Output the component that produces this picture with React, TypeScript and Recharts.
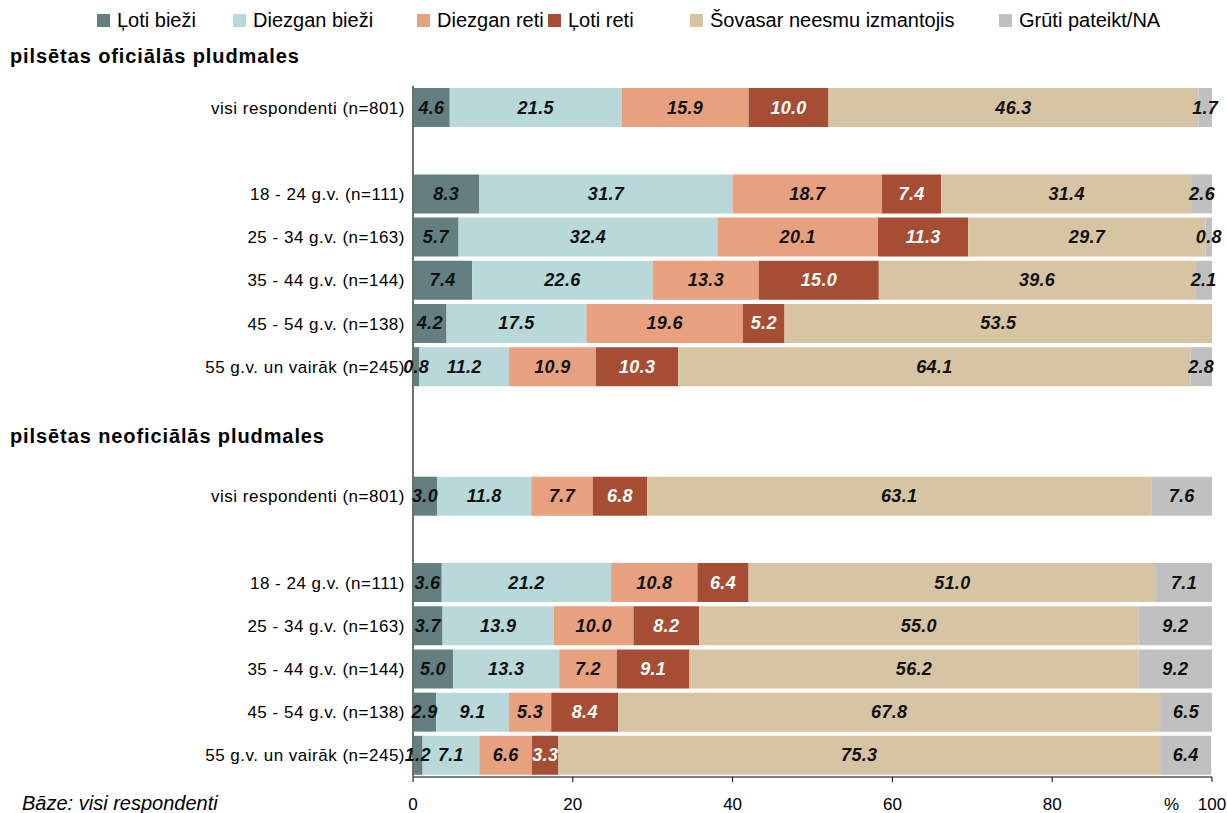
import React from 'react';
import { BarChart, Bar, XAxis, YAxis, LabelList } from 'recharts';

// row labels (empty strings are spacer rows)
const categories = [
  'visi respondenti (n=801)',
  '',
  '18 - 24 g.v. (n=111)',
  '25 - 34 g.v. (n=163)',
  '35 - 44 g.v. (n=144)',
  '45 - 54 g.v. (n=138)',
  '55 g.v. un vairāk (n=245)',
  '',
  '',
  'visi respondenti (n=801)',
  '',
  '18 - 24 g.v. (n=111)',
  '25 - 34 g.v. (n=163)',
  '35 - 44 g.v. (n=144)',
  '45 - 54 g.v. (n=138)',
  '55 g.v. un vairāk (n=245)',
];

const lotiBiezi = [4.6, null, 8.3, 5.7, 7.4, 4.2, 0.8, null, null, 3.0, null, 3.6, 3.7, 5.0, 2.9, 1.2];
const diezganBiezi = [21.5, null, 31.7, 32.4, 22.6, 17.5, 11.2, null, null, 11.8, null, 21.2, 13.9, 13.3, 9.1, 7.1];
const diezganReti = [15.9, null, 18.7, 20.1, 13.3, 19.6, 10.9, null, null, 7.7, null, 10.8, 10.0, 7.2, 5.3, 6.6];
const lotiReti = [10.0, null, 7.4, 11.3, 15.0, 5.2, 10.3, null, null, 6.8, null, 6.4, 8.2, 9.1, 8.4, 3.3];
const neesmu = [46.3, null, 31.4, 29.7, 39.6, 53.5, 64.1, null, null, 63.1, null, 51.0, 55.0, 56.2, 67.8, 75.3];
const gruti = [1.7, null, 2.6, 0.8, 2.1, 0, 2.8, null, null, 7.6, null, 7.1, 9.2, 9.2, 6.5, 6.4];

const xTicks = [0, 20, 40, 60, 80, 100];

const series = [
  { key: 'a', name: 'Ļoti bieži', values: lotiBiezi, color: '#637f80', text: '#111' },
  { key: 'b', name: 'Diezgan bieži', values: diezganBiezi, color: '#b8d8d9', text: '#111' },
  { key: 'c', name: 'Diezgan reti', values: diezganReti, color: '#e7a17e', text: '#111' },
  { key: 'd', name: 'Ļoti reti', values: lotiReti, color: '#a54e34', text: '#fff' },
  { key: 'e', name: 'Šovasar neesmu izmantojis', values: neesmu, color: '#d6c4a3', text: '#111' },
  { key: 'f', name: 'Grūti pateikt/NA', values: gruti, color: '#c0c0c0', text: '#111' },
];

const data = categories.map((name, i) => {
  const row: Record<string, any> = { name };
  series.forEach((s) => {
    row[s.key] = s.values[i];
  });
  return row;
});

const FONT = '"Liberation Sans", Arial, sans-serif';

// legend item x positions (px)
const legendX = [97, 233, 417, 548, 690, 999];

const makeLabel = (fill: string) => (props: any) => {
  const { x, y, width, height, value } = props;
  if (value == null || value === 0) return null;
  return (
    <text
      x={Number(x) + Number(width) / 2}
      y={Number(y) + Number(height) / 2}
      textAnchor="middle"
      dominantBaseline="central"
      fill={fill}
      fontFamily={FONT}
      fontSize={18}
      fontWeight="bold"
      fontStyle="italic"
      letterSpacing={0.3}
    >
      {Number(value).toFixed(1)}
    </text>
  );
};

export default function App() {
  return (
    <div style={{ position: 'absolute', left: 0, top: 0, width: 1227, height: 813, fontFamily: FONT, background: '#fff' }}>
      {series.map((s, i) => (
        <div
          key={s.key}
          style={{ position: 'absolute', left: legendX[i], top: 8, height: 24, display: 'flex', alignItems: 'center', fontSize: 20, color: '#000', whiteSpace: 'nowrap' }}
        >
          <span style={{ display: 'inline-block', width: 13, height: 13, background: s.color, marginRight: 7 }} />
          {s.name}
        </div>
      ))}
      <div style={{ position: 'absolute', left: 10, top: 45, fontSize: 20, fontWeight: 'bold', letterSpacing: 0.9, whiteSpace: 'nowrap' }}>
        pilsētas oficiālās pludmales
      </div>
      <div style={{ position: 'absolute', left: 10, top: 425, fontSize: 20, fontWeight: 'bold', letterSpacing: 0.9, whiteSpace: 'nowrap' }}>
        pilsētas neoficiālās pludmales
      </div>
      <div style={{ position: 'absolute', left: 22, top: 792, fontSize: 20, fontStyle: 'italic', whiteSpace: 'nowrap' }}>
        Bāze: visi respondenti
      </div>
      <div style={{ position: 'absolute', left: 1164, top: 795, fontSize: 17, whiteSpace: 'nowrap' }}>%</div>
      <div style={{ position: 'absolute', left: 0, top: 0 }}>
        <BarChart
          width={1227}
          height={813}
          data={data}
          layout="vertical"
          margin={{ top: 86, right: 15, bottom: 0, left: 0 }}
        >
          <XAxis
            type="number"
            domain={[0, 100]}
            allowDataOverflow
            ticks={xTicks}
            height={36}
            tickSize={5}
            tickMargin={16}
            axisLine={{ stroke: '#000' }}
            tickLine={{ stroke: '#000' }}
            tick={{ fontSize: 17, fill: '#000', fontFamily: FONT }}
          />
          <YAxis
            type="category"
            dataKey="name"
            width={413}
            tickLine={false}
            axisLine={{ stroke: '#6f6f6f', strokeWidth: 2 }}
            tick={{ fontSize: 17, fill: '#000', fontFamily: FONT, letterSpacing: 0.5 }}
            interval={0}
          />
          {series.map((s) => (
            <Bar key={s.key} dataKey={s.key} stackId="x" fill={s.color} barSize={39} isAnimationActive={false}>
              <LabelList dataKey={s.key} content={makeLabel(s.text)} />
            </Bar>
          ))}
        </BarChart>
      </div>
    </div>
  );
}
